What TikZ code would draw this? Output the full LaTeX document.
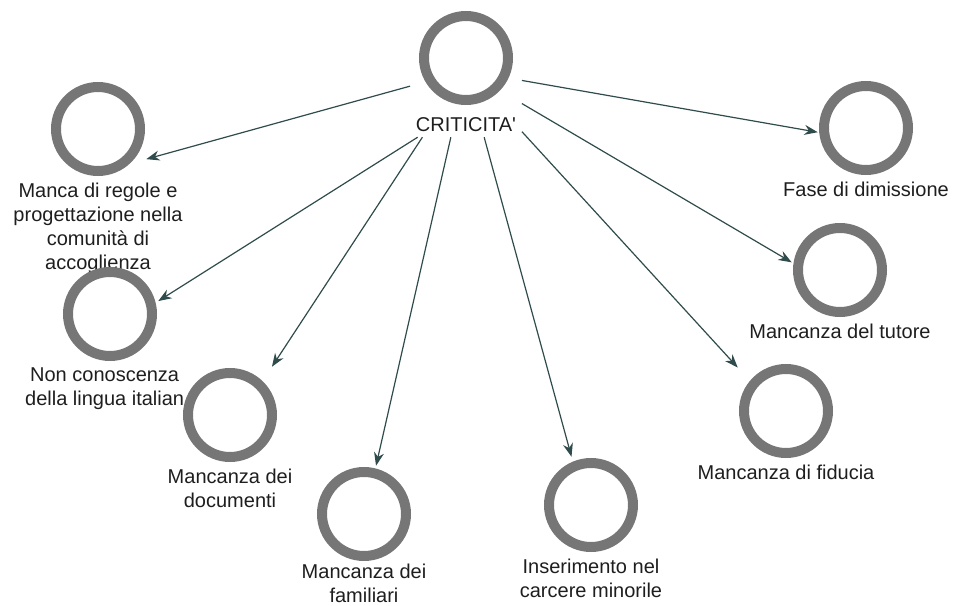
\documentclass[tikz,border=0pt]{standalone}
\usepackage{fontspec}
\setmainfont{Liberation Sans}
\usepackage{tikz}
\usetikzlibrary{arrows.meta, positioning, fit}
\definecolor{ringGray}{HTML}{767676}
\definecolor{arrowSlate}{HTML}{2F4B4B}
\definecolor{textDark}{HTML}{1E1E1E}
\tikzset{
  ring/.style={rectangle, inner sep=0pt, minimum size=72pt,
    path picture={\draw[ringGray, line width=7.5pt] (path picture bounding box.center) circle (31.5pt);}},
  caption/.style={align=center, inner sep=0pt, text=textDark, font=\fontsize{15pt}{18pt}\selectfont},
  link/.style={->, arrowSlate, line width=0.9pt},
}

\begin{document}
\begin{tikzpicture}[x=0.75pt, y=-0.75pt, >={Stealth[length=10pt, width=7.5pt]}, node distance=4pt]
\useasboundingbox (0,0) rectangle (954,606);
% central topic
\node[ring] (crit) at (466,58) {};
\node[caption, below=8pt of crit] (critl) {CRITICITA\textquotesingle};
\node[fit=(crit)(critl), inner sep=4pt] (critall) {};
% sub topics
\node[ring] (regole) at (98,129) {};
\node[caption, below=of regole] (regolel) {Manca di regole e\\progettazione nella\\comunità di\\accoglienza};
\node[ring] (lingua) at (110,314) {};
\node[caption, below=of lingua, xshift=-4pt] (lingual) {Non conoscenza\\della lingua italian};
\node[ring] (documenti) at (230,415) {};
\node[caption, below=of documenti] (documentil) {Mancanza dei\\documenti};
\node[ring] (familiari) at (364,514) {};
\node[caption, below=1pt of familiari] (familiaril) {Mancanza dei\\familiari};
\node[ring] (carcere) at (591,505) {};
\node[caption, below=of carcere] (carcerel) {Inserimento nel\\carcere minorile};
\node[ring] (fiducia) at (786,411) {};
\node[caption, below=of fiducia] (fiducial) {Mancanza di fiducia};
\node[ring] (tutore) at (840,270) {};
\node[caption, below=of tutore] (tutorel) {Mancanza del tutore};
\node[ring] (dimissione) at (866,128) {};
\node[caption, below=of dimissione] (dimissionel) {Fase di dimissione};
% links
\draw[link] (critall) -- (regole.-32);
\draw[link] (critall.-126) -- (lingua.15);
\draw[link] (critall) -- (documenti.49);
\draw[link] (critall) -- (familiari.76);
\draw[link] (critall) -- (carcere.112);
\draw[link] (critall) -- (fiducia.138);
\draw[link] (critall) -- (tutore.171);
\draw[link] (critall) -- (dimissione.-175);
\end{tikzpicture}
\end{document}
